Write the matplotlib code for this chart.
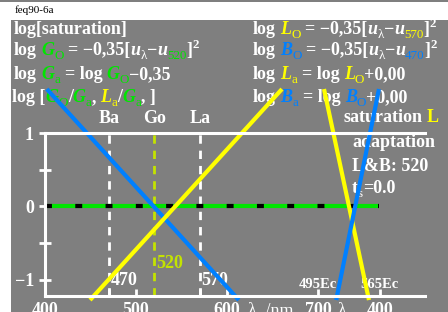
import matplotlib
matplotlib.use('Agg')
import matplotlib.pyplot as plt
import matplotlib.transforms as mtransforms
from matplotlib.patches import Rectangle

plt.rcParams['lines.scale_dashes'] = False

GRAY = '#7f7f7f'
GREEN = '#00e600'
YELLOW = '#ffff00'
BLUE = '#0080ff'
YGREEN = '#c4e300'
SERIF = 'Liberation Serif'

# data
mark_wl = [470, 520, 570]
mark_names = ['Ba', 'Go', 'La']
mark_colors = ['white', YGREEN, 'white']

blue_left_x = [402, 613]
blue_left_y = [1.6, -1.28]
yellow_left_x = [449.5, 660.4]
yellow_left_y = [-1.28, 1.6]
blue_right_x = [720, 767]
blue_right_y = [-1.28, 1.6]
yellow_right_x = [706.6, 756]
yellow_right_y = [1.6, -1.28]
zero_x = [400, 767]
zero_y = [0, 0]

x_ticks = [400, 470, 500, 570, 600, 700, 768]
bottom_pos = [400, 500, 600, 700, 768]
bottom_labels = ['400', '500', '600', '700', '400']
ec_pos = [700, 768]
ec_labels = ['495Ec', '565Ec']
y_ticks = [-1, -0.5, 0, 0.5, 1]
y_labels = ['\u22121', '', '0', '', '1']

W, H = 448, 312
fig = plt.figure(figsize=(W / 100, H / 100), dpi=100, facecolor='white')

bg = fig.add_axes([0, 0, 1, 1])
bg.set_xlim(0, W)
bg.set_ylim(H, 0)
bg.axis('off')
bg.add_patch(Rectangle((11, 20), W - 11, H - 20, color=GRAY, lw=0))
bg.add_patch(Rectangle((0, 0), W, 2, color=GRAY, lw=0))
bg.text(15, 13, 'feq90-6a', fontsize=8, family=SERIF, color='black')

ax = fig.add_axes([45 / W, 1 - 296 / H, 380 / W, 163 / H], zorder=2)
ax.set_facecolor('none')
ax.set_xlim(400, 400 + 380 / 0.91)
ax.set_ylim(-1.225, 1.0)
for side in ['left', 'bottom', 'top']:
    ax.spines[side].set_color('white')
    ax.spines[side].set_linewidth(2.2)
ax.spines['right'].set_visible(False)
ax.set_xticks(x_ticks, [''] * len(x_ticks))
ax.tick_params(axis='x', direction='in', length=5, width=2, color='white')
ax.set_yticks(y_ticks, y_labels)
ax.tick_params(axis='y', direction='inout', length=8, width=2, color='white',
               labelcolor='white', labelsize=13, pad=4)
for lab in ax.get_yticklabels():
    lab.set_family(SERIF)
    lab.set_fontweight('bold')

for wl, c in zip(mark_wl, mark_colors):
    ax.plot([wl, wl], [-1.225, 1.0], color=c, lw=2, dashes=(6, 5))

ax.plot(zero_x, zero_y, color=GREEN, lw=3, solid_capstyle='butt')
ax.plot(zero_x, zero_y, color='black', lw=3, dashes=(5, 16.8))

kw = dict(lw=3, clip_on=False, solid_capstyle='butt')
ax.plot(blue_left_x, blue_left_y, color=BLUE, **kw)
ax.plot(yellow_left_x, yellow_left_y, color=YELLOW, **kw)
ax.plot(yellow_right_x, yellow_right_y, color=YELLOW, **kw)
ax.plot(blue_right_x, blue_right_y, color=BLUE, **kw)

renderer = fig.canvas.get_renderer()


def rich(x, y, parts, size=13, axes=bg, transform=None):
    tr = transform if transform is not None else axes.transData
    sp = size * 100 / 72 * 0.25
    for txt, col, style in parts:
        fs, dy, st, wt = size, 0, 'normal', 'bold'
        if style == 'i':
            st = 'italic'
        elif style == 'sub':
            fs, dy, wt = size * 0.72, 4, 'normal'
        elif style == 'sup':
            fs, dy = size * 0.72, -7
        elif style == 'r':
            wt = 'normal'
        lead = len(txt) - len(txt.lstrip(' '))
        trail = len(txt) - len(txt.rstrip(' '))
        x += lead * sp
        core = txt.strip(' ')
        if core:
            t = axes.text(x, y + dy, core, color=col, fontsize=fs, fontstyle=st,
                          fontweight=wt, family=SERIF, va='baseline', ha='left',
                          transform=tr)
            x += t.get_window_extent(renderer).width
        x += trail * sp


Wt = 'white'
rich(14, 34, [('log[saturation]', Wt, 'n')])
rich(14, 55, [('log ', Wt, 'n'), ('G', GREEN, 'i'), ('O', GREEN, 'sub'),
              (' = \u22120,35[', Wt, 'n'), ('u', Wt, 'i'), ('\u03bb', Wt, 'sub'),
              ('\u2212', Wt, 'n'), ('u', Wt, 'i'), ('520', GREEN, 'sub'),
              (']', Wt, 'n'), ('2', Wt, 'sup')])
rich(14, 79, [('log ', Wt, 'n'), ('G', GREEN, 'i'), ('a', GREEN, 'sub'),
              (' = log ', Wt, 'n'), ('G', GREEN, 'i'), ('O', GREEN, 'sub'),
              ('\u22120,35', Wt, 'n')])
rich(12, 102, [('log [', Wt, 'n'), ('G', GREEN, 'i'), ('O', GREEN, 'sub'),
               ('/', Wt, 'n'), ('G', GREEN, 'i'), ('a', GREEN, 'sub'), (', ', Wt, 'n'),
               ('L', YELLOW, 'i'), ('a', YELLOW, 'sub'), ('/', Wt, 'n'),
               ('G', GREEN, 'i'), ('a', GREEN, 'sub'), (', ]', Wt, 'n')])

rich(253, 34, [('log ', Wt, 'n'), ('L', YELLOW, 'i'), ('O', YELLOW, 'sub'),
               (' = \u22120,35[', Wt, 'n'), ('u', Wt, 'i'), ('\u03bb', Wt, 'sub'),
               ('\u2212', Wt, 'n'), ('u', Wt, 'i'), ('570', YELLOW, 'sub'),
               (']', Wt, 'n'), ('2', Wt, 'sup')])
rich(253, 55, [('log ', Wt, 'n'), ('B', BLUE, 'i'), ('O', BLUE, 'sub'),
               (' = \u22120,35[', Wt, 'n'), ('u', Wt, 'i'), ('\u03bb', Wt, 'sub'),
               ('\u2212', Wt, 'n'), ('u', Wt, 'i'), ('470', BLUE, 'sub'),
               (']', Wt, 'n'), ('2', Wt, 'sup')])
rich(253, 79, [('log ', Wt, 'n'), ('L', YELLOW, 'i'), ('a', YELLOW, 'sub'),
               (' = log ', Wt, 'n'), ('L', YELLOW, 'i'), ('O', YELLOW, 'sub'),
               ('+0,00', Wt, 'n')])
rich(253, 102, [('log ', Wt, 'n'), ('B', BLUE, 'i'), ('a', BLUE, 'sub'),
                (' = log ', Wt, 'n'), ('B', BLUE, 'i'), ('O', BLUE, 'sub'),
                ('+0,00', Wt, 'n')])

rich(343, 122, [('saturation ', Wt, 'n'), ('L', YELLOW, 'n')])
rich(352, 147, [('adaptation', Wt, 'n')])
rich(352, 171, [('L&B: 520', Wt, 'n')])
rich(352, 193, [('t', Wt, 'n'), ('s', Wt, 'sub'), ('=0.0', Wt, 'n')])

# labels tied to wavelength positions (x in nm, y in pixels)
bt = mtransforms.blended_transform_factory(ax.transData, bg.transData)
tkw = dict(family=SERIF, fontweight='bold', va='baseline', transform=bt)
for wl, name in zip(mark_wl, mark_names):
    bg.text(wl, 123, name, color=Wt, fontsize=13, ha='center', **tkw)
bg.text(472, 285, str(mark_wl[0]), color=Wt, fontsize=13, ha='left', **tkw)
bg.text(522, 268, str(mark_wl[1]), color=YGREEN, fontsize=13, ha='left', **tkw)
bg.text(572, 285, str(mark_wl[2]), color=Wt, fontsize=13, ha='left', **tkw)
for p, lab in zip(ec_pos, ec_labels):
    bg.text(p, 288, lab, color=Wt, fontsize=10.5, ha='center', **tkw)
for p, lab in zip(bottom_pos, bottom_labels):
    bg.text(p, 315, lab, color=Wt, fontsize=13, ha='center', clip_on=False, **tkw)
rich(248, 315, [('\u03bb', Wt, 'r'), (' ,/nm', Wt, 'r')])
rich(337, 315, [('\u03bb', Wt, 'r')])

fig.savefig('out.png', dpi=100, facecolor='white')
